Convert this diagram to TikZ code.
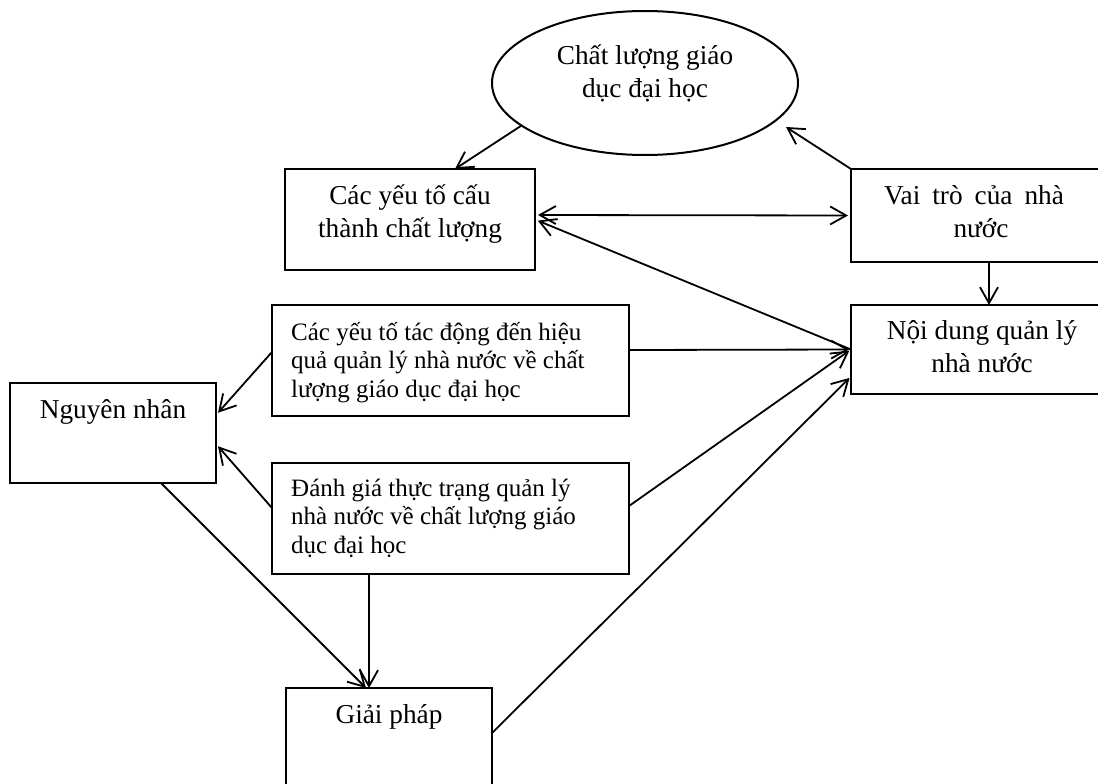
\documentclass[tikz,border=0pt]{standalone}
\usepackage{fontspec}
\setmainfont{Liberation Serif}
\usetikzlibrary{arrows.meta,shapes.geometric}
\begin{document}
\begin{tikzpicture}[x=1pt,y=-1pt,
  frame/.style={draw, line width=2pt, inner sep=0pt, outer sep=0pt},
  big/.style={font=\fontsize{27.3}{33}\selectfont, inner sep=0pt, align=center, anchor=base},
  small/.style={font=\fontsize{25}{28.5}\selectfont, inner sep=0pt, align=left, anchor=base west},
  barb/.tip={Straight Barb[length=16pt,width=18pt]},
  link/.style={line width=1.8pt, -barb},
  both/.style={line width=1.8pt, barb-barb}]
\useasboundingbox (0,0) rectangle (1098,784);
\fill[white] (0,0) rectangle (1098,784);
\clip (0,0) rectangle (1098,784);

% nodes (text nodes are placed at the baseline of their last line)
\node[frame, ellipse, minimum width=306pt, minimum height=144pt] (el) at (645,83) {};
\node[big] (elt) at (645,98) {Chất lượng giáo\\dục đại học};
\node[frame, minimum width=250pt, minimum height=101pt] (cyt) at (410,219.5) {};
\node[big] (cytt) at (410,237) {Các yếu tố cấu\\thành chất lượng};
\node[frame, minimum width=260pt, minimum height=93pt] (vt) at (981,215.5) {};
\node[big] (vtt) at (981,237) {Vai\hspace{12pt}trò\hspace{12pt}của\hspace{12pt}nhà\hspace*{14pt}\\nước};
\node[frame, minimum width=260pt, minimum height=89pt] (nd) at (981,349.5) {};
\node[big] (ndt) at (982,372) {Nội dung quản lý\\nhà nước};
\node[frame, minimum width=357pt, minimum height=111pt] (td) at (450.5,360.5) {};
\node[small] (tdt) at (291,397) {Các yếu tố tác động đến hiệu\\quả quản lý nhà nước về chất\\lượng giáo dục đại học};
\node[frame, minimum width=206pt, minimum height=100pt] (nn) at (113,433) {};
\node[big] (nnt) at (113,418) {Nguyên nhân};
\node[frame, minimum width=357pt, minimum height=111pt] (dg) at (450.5,518.5) {};
\node[small] (dgt) at (291,553) {Đánh giá thực trạng quản lý\\nhà nước về chất lượng giáo\\dục đại học};
\node[frame, minimum width=206pt, minimum height=112pt] (gp) at (389,744) {};
\node[big] (gpt) at (389,723) {Giải pháp};
\coordinate (elR) at (786,127);

% connectors
\draw[link] (el.199) -- ([xshift=45pt]cyt.north);
\draw[link] (vt.north west) -- (elR);
\draw[both, shorten <=3pt, shorten >=3pt] ([yshift=4.5pt]cyt.east) -- (vt.west);
\draw[link, shorten >=3pt] (nd.west) -- (cyt.east);
\draw[link] ([xshift=8pt]vt.south) -- ([xshift=8pt]nd.north);
\draw[link, shorten >=2pt] ([yshift=10.5pt]td.east) -- (nd.west);
\draw[link, shorten >=2pt] ([yshift=12.5pt]dg.east) -- (nd.west);
\draw[link, shorten >=2pt] ([yshift=11pt]gp.east) -- ([yshift=-27pt]nd.west);
\draw[link, shorten >=3pt] ([yshift=8.5pt]td.west) -- ([yshift=18pt]nn.east);
\draw[link, shorten >=3pt] ([yshift=10.5pt]dg.west) -- ([yshift=-11pt]nn.east);
\draw[link] ([xshift=48pt]nn.south) -- ([xshift=-23pt]gp.north);
\draw[link] ([xshift=-81.5pt]dg.south) -- ([xshift=-20pt]gp.north);
\end{tikzpicture}
\end{document}
